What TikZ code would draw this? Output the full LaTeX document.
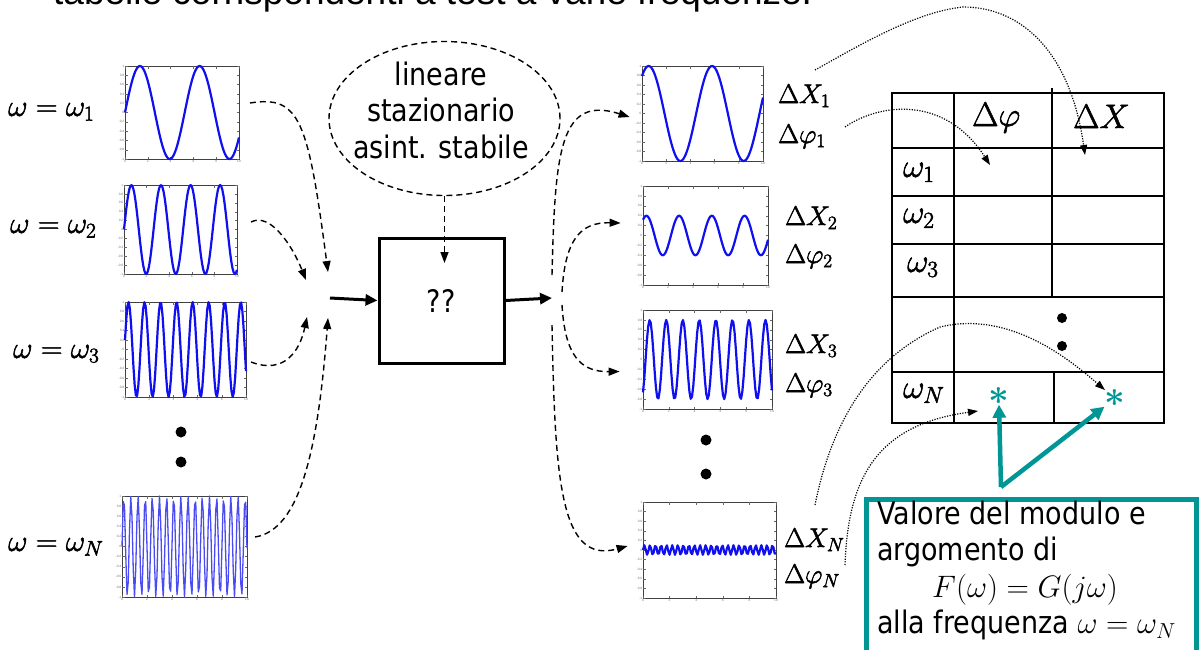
\RequirePackage{fix-cm}
\documentclass[tikz,border=0pt]{standalone}
\usepackage[no-math]{fontspec}
\setmainfont{Liberation Sans}
\newfontfamily\slidefont{DejaVu Sans}[FakeStretch=0.87]
\usetikzlibrary{arrows.meta,shapes.geometric,fit}
\definecolor{tealc}{RGB}{0,150,150}
\definecolor{sigblue}{RGB}{15,15,240}

% outlined glyphs give the formulas a slightly heavier stroke
\newcommand\heavyink{\special{pdf:literal direct 2 Tr 0.55 w}}

% one oscilloscope-like plot: frame, ticks, tick labels and a sampled sine
% #1 style, #2 name, #3-#6 frame corners, #7 amplitude, #8 pulsation, #9 phase
\newcommand\waveplot[9]{%
  \coordinate (#2-nw) at (#3,#4);
  \coordinate (#2-se) at (#5,#6);
  \node[frame, fit=(#2-nw)(#2-se)] (#2) {};
  \foreach \k/\lab in {0/1,1/0.8,2/0.6,3/0.4,4/0.2,5/0,6/-0.2,7/-0.4,8/-0.6,9/-0.8,10/-1} {
    \draw[tick] (#3,{#4+\k*(#6-#4)/10}) -- ++(2.5,0);
    \draw[tick] (#5,{#4+\k*(#6-#4)/10}) -- ++(-2.5,0);
    \node[ticklab, anchor=east] at (#3,{#4+\k*(#6-#4)/10}) {\lab};
  }
  \foreach \k/\lab in {0/0,1/2,2/4,3/6,4/8,5/10} {
    \draw[tick] ({#3+\k*(#5-#3)/5},#6) -- ++(0,-2.5);
    \draw[tick] ({#3+\k*(#5-#3)/5},#4) -- ++(0,2.5);
    \node[ticklab, anchor=north] at ({#3+\k*(#5-#3)/5},#6) {\lab};
  }
  \draw[#1] plot[domain=0:10, samples=101, variable=\t]
    ({#3+\t*(#5-#3)/10}, {(#4+#6)/2-#7*(#6-#4)/2*sin(deg(#8*\t+(#9)))});
}

\begin{document}
\begin{tikzpicture}[x=1pt,y=-1pt,
  frame/.style={draw=black!75, line width=0.8pt, inner sep=0pt},
  tick/.style={draw=black!60, line width=0.4pt},
  ticklab/.style={font=\fontsize{3.2}{3.5}\selectfont, text=black!55, inner sep=0.6pt},
  sig/.style={draw=sigblue, line width=2.2pt, line join=round},
  sigthin/.style={draw=sigblue!75!white, line width=1.3pt, line join=round},
  formula/.style={inner sep=0pt, anchor=base west, execute at begin node=\heavyink},
  inlab/.style={formula, font=\fontsize{30}{36}\selectfont},
  dlab/.style={formula, font=\fontsize{27}{30}\selectfont},
  hlab/.style={formula, font=\fontsize{34}{38}\selectfont},
  rlab/.style={formula, font=\fontsize{33}{38}\selectfont},
  slide/.style={font=\slidefont\fontsize{31}{36.5}\selectfont, inner sep=0pt},
  dasharrow/.style={line width=1.4pt, dash pattern=on 6pt off 4pt, -{Triangle[length=11pt,width=8pt]}},
  dotarrow/.style={line width=1.2pt, dash pattern=on 1.2pt off 1.4pt, -{Triangle[length=10pt,width=7pt]}},
  thickarrow/.style={line width=3pt, -{Triangle[length=12pt,width=11pt]}},
  tealarrow/.style={draw=tealc, line width=4.5pt, -{Triangle[length=13pt,width=13pt]}},
  bigdot/.style={fill=black, circle, inner sep=0pt, minimum size=11pt},
  tabline/.style={line width=1.5pt},
  astk/.style={text=tealc, font=\fontsize{36}{38}\selectfont\boldmath, inner sep=0pt},
]
\useasboundingbox (0,0) rectangle (1200,649);
\clip (0,0) rectangle (1200,649);

% heading line, cut by the top edge
\node[anchor=base west, font=\fontsize{37}{40}\selectfont, inner sep=0pt] (head)
  at (53,4) {tabelle corrispondenti a test a varie frequenze.};

% input signals
\waveplot{sig}{in1}{125}{66}{239}{159}{1}{1.2}{0}
\waveplot{sig}{in2}{124}{185}{237}{274}{1}{2.4}{0}
\waveplot{sig}{in3}{125}{302}{246}{397}{1}{4.74}{0.2}
\waveplot{sigthin}{inN}{122}{496}{247}{597}{1}{11}{0}

\node[inlab] (w1) at (8,116) {$\omega=\omega_1$};
\node[inlab] (w2) at (10,233) {$\omega=\omega_2$};
\node[inlab] (w3) at (13,358) {$\omega=\omega_3$};
\node[inlab] (wN) at (8,551) {$\omega=\omega_N$};

\node[bigdot] (ldot1) at (181,432) {};
\node[bigdot] (ldot2) at (181,462) {};

% system block and its hypotheses
\node[draw, line width=3pt, minimum width=125pt, minimum height=125pt, inner sep=0pt] (sys) at (441.5,300.5) {};
\node[slide, anchor=base] (qq) at (441,312) {??};
\node[draw, ellipse, line width=1.4pt, dash pattern=on 6pt off 4pt,
      minimum width=231pt, minimum height=154pt, inner sep=0pt] (prop) at (444.5,118.5) {};
\node[slide, align=center, anchor=north] (proptext) at (441,61.5)
  {lineare\\stazionario\\asint. stabile};
\coordinate (sysin) at (444.5,263);
\draw[dasharrow] (prop.south) -- (sysin);

\coordinate (join) at (330,298);
\coordinate (split) at (552,298);
\draw[thickarrow] (join) -- (sys.west);
\draw[thickarrow] (sys.east) -- (split);

% inputs converging on the block
\coordinate (s1) at (250,103);  \coordinate (e1) at (328,272);
\coordinate (s2) at (251,222);  \coordinate (e2) at (306,280);
\coordinate (s3) at (251,362);  \coordinate (e3) at (307,317);
\coordinate (s4) at (255,537);  \coordinate (e4) at (328,318);
\draw[dasharrow] (s1) .. controls (300,95) and (308,120) .. (e1);
\draw[dasharrow] (s2) .. controls (270,212) and (292,245) .. (e2);
\draw[dasharrow] (s3) .. controls (285,375) and (300,350) .. (e3);
\draw[dasharrow] (s4) .. controls (300,530) and (318,450) .. (e4);

% output signals
\waveplot{sig}{out1}{642}{66}{763}{161}{1}{1.2}{0.91}
\waveplot{sig}{out2}{643}{186}{768}{285}{0.4}{2.4}{0.92}
\waveplot{sig}{out3}{643}{310}{772}{409}{0.8}{4.9}{-0.98}
\waveplot{sig}{outN}{643}{502}{776}{598}{0.1}{15}{0}

\node[bigdot] (rdot1) at (706,440) {};
\node[bigdot] (rdot2) at (706,474) {};

% outputs leaving the block
\coordinate (o1) at (552,275);
\coordinate (o2) at (562,292);
\coordinate (o3) at (562,305);
\coordinate (o4) at (552,325);
\draw[dasharrow] (o1) .. controls (555,150) and (560,95) .. ([xshift=-12pt,yshift=-3.5pt]out1.west);
\draw[dasharrow] (o2) .. controls (565,240) and (580,222) .. ([xshift=-22pt,yshift=12.5pt]out2.west);
\draw[dasharrow] (o3) .. controls (565,355) and (580,372) .. ([xshift=-23pt,yshift=-12pt]out3.west);
\draw[dasharrow] (o4) .. controls (555,480) and (560,565) .. ([xshift=-15pt,yshift=4pt]outN.west);

% measured gains and phases
\node[dlab] (dX1) at (778,103) {$\Delta X_1$};
\node[dlab] (dp1) at (778,143) {$\Delta\varphi_1$};
\node[dlab] (dX2) at (785,225) {$\Delta X_2$};
\node[dlab] (dp2) at (785,263) {$\Delta\varphi_2$};
\node[dlab] (dX3) at (785,353) {$\Delta X_3$};
\node[dlab] (dp3) at (785,392) {$\Delta\varphi_3$};
\node[dlab] (dXN) at (784,547) {$\Delta X_N$};
\node[dlab] (dpN) at (784,583) {$\Delta\varphi_N$};

% table of results
\draw[tabline] (892,93) rectangle (1164,423);
\foreach \yy in {148,196,244,297,372} \draw[tabline] (892,\yy) -- (1164,\yy);
\draw[tabline] (954,93) -- (954,423);
\draw[tabline] (1052,88) -- (1052,297);
\draw[tabline] (1054,372) -- (1054,423);
\node[hlab] (hphi) at (972,126) {$\Delta\varphi$};
\node[hlab] (hX) at (1073,128) {$\Delta X$};
\node[rlab] (t1) at (903,177) {$\omega_1$};
\node[rlab] (t2) at (903,223) {$\omega_2$};
\node[rlab] (t3) at (907,272) {$\omega_3$};
\node[rlab] (tN) at (903,398) {$\omega_N$};
\node[bigdot, minimum size=10pt] (tdot1) at (1062,318) {};
\node[bigdot, minimum size=10pt] (tdot2) at (1062,346) {};
\node[astk] (ast1) at (999,396) {$\ast$};
\node[astk] (ast2) at (1115,398) {$\ast$};

% where each measure goes in the table
\coordinate (sX1) at (815,70);   \coordinate (cX1) at (1085,155);
\coordinate (sp1) at (845,127);  \coordinate (cp1) at (990,165);
\coordinate (sXN) at (815,505);  \coordinate (cXN) at (1105,390);
\coordinate (spN) at (845,565);  \coordinate (cpN) at (978,411);
\draw[dotarrow] (sX1) .. controls (860,45) and (915,12) .. (963,7)
                      .. controls (1020,7) and (1070,50) .. (cX1);
\draw[dotarrow] (sp1) .. controls (880,103) and (945,95) .. (cp1);
\draw[dotarrow] (sXN) .. controls (830,430) and (865,360) .. (940,327)
                      .. controls (1010,310) and (1070,360) .. (cXN);
\draw[dotarrow] (spN) .. controls (848,480) and (875,425) .. (cpN);

% explanatory note
\node[draw=tealc, line width=5pt, minimum width=330pt, minimum height=190pt,
      anchor=north west, inner sep=0pt] (note) at (864,497) {};
\node[slide, align=left, anchor=north west] (notetext) at (877,500.5)
  {Valore del modulo e\\argomento di\\\hspace*{55pt}$F(\omega)=G(j\omega)$\\alla frequenza $\omega=\omega_N$};
\coordinate (apex) at (1001,487);
\draw[tealarrow] (apex) -- (ast1.south);
\draw[tealarrow] (apex) -- (ast2.south west);
\end{tikzpicture}
\end{document}
